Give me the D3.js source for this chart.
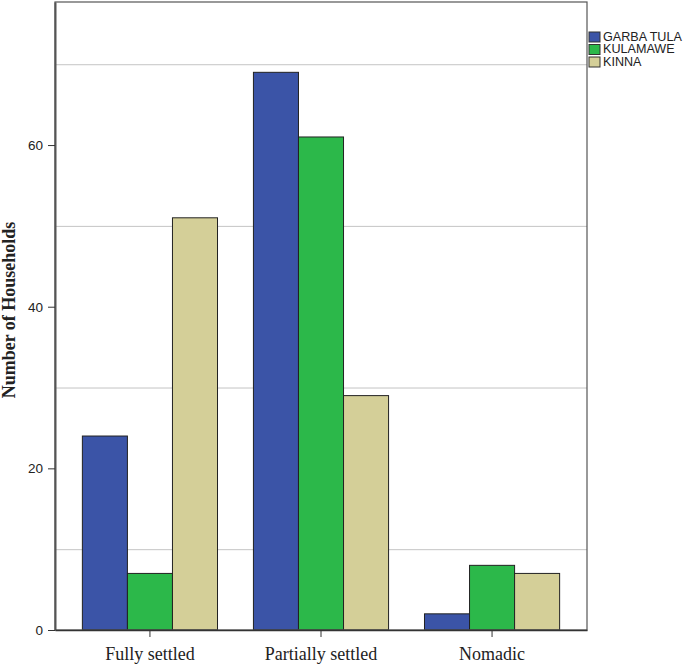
<!DOCTYPE html>
<html>
<head>
<meta charset="utf-8">
<script src="https://cdn.jsdelivr.net/npm/d3@7"></script>
<style>
  body { margin: 0; background: #fff; }
</style>
</head>
<body>
<div id="chart"></div>
<script>
const categories = ['Fully settled', 'Partially settled', 'Nomadic'];
const seriesNames = ['GARBA TULA', 'KULAMAWE', 'KINNA'];
const garbaTula = [24, 69, 2];
const kulamawe = [7, 61, 8];
const kinna = [51, 29, 7];
const yTicks = [0, 20, 40, 60];
const gridValues = [10, 30, 50, 70];

const seriesValues = [garbaTula, kulamawe, kinna];
const colors = ['#3b54a7', '#2cb84a', '#d4cf98'];

const width = 685, height = 666;
const margin = { top: 2, right: 98, bottom: 36, left: 55 };

const svg = d3.select('#chart').append('svg')
  .attr('width', width)
  .attr('height', height);

const x0 = d3.scaleBand()
  .domain(categories)
  .range([margin.left, width - margin.right])
  .paddingInner(0.21)
  .paddingOuter(0.16);

const x1 = d3.scaleBand()
  .domain(seriesNames)
  .range([0, x0.bandwidth()]);

const y = d3.scaleLinear()
  .domain([0, 77.7])
  .range([height - margin.bottom, margin.top]);

// gridlines
svg.append('g')
  .selectAll('line')
  .data(gridValues)
  .join('line')
  .attr('x1', margin.left)
  .attr('x2', width - margin.right)
  .attr('y1', (d) => y(d) + 0.5)
  .attr('y2', (d) => y(d) + 0.5)
  .attr('stroke', '#c4c4c4')
  .attr('stroke-width', 1);

// bars
const rows = categories.map((c, i) => ({
  cat: c,
  vals: seriesNames.map((s, j) => ({ s, v: seriesValues[j][i], k: j })),
}));

svg.append('g')
  .selectAll('g')
  .data(rows)
  .join('g')
  .attr('transform', (d) => `translate(${x0(d.cat)},0)`)
  .selectAll('rect')
  .data((d) => d.vals)
  .join('rect')
  .attr('x', (d) => x1(d.s))
  .attr('y', (d) => y(d.v))
  .attr('width', x1.bandwidth())
  .attr('height', (d) => y(0) - y(d.v))
  .attr('fill', (d) => colors[d.k])
  .attr('stroke', '#222')
  .attr('stroke-width', 1);

// frame
svg.append('rect')
  .attr('x', margin.left)
  .attr('y', margin.top)
  .attr('width', width - margin.right - margin.left)
  .attr('height', height - margin.bottom - margin.top)
  .attr('fill', 'none')
  .attr('stroke', '#555')
  .attr('stroke-width', 1.2);

// y axis
const yAxis = svg.append('g')
  .attr('transform', `translate(${margin.left},0)`)
  .call(d3.axisLeft(y).tickValues(yTicks).tickSize(7).tickSizeOuter(0).tickPadding(5));
yAxis.select('.domain').attr('stroke', '#555').attr('stroke-width', 2);
yAxis.selectAll('.tick line').attr('stroke', '#333');
yAxis.selectAll('text')
  .attr('font-family', 'Arial, "Liberation Sans", sans-serif')
  .attr('font-size', 13.5)
  .attr('fill', '#222');

// x axis
const xAxis = svg.append('g')
  .attr('transform', `translate(0,${height - margin.bottom})`)
  .call(d3.axisBottom(x0).tickSize(7).tickSizeOuter(0).tickPadding(10));
xAxis.select('.domain').attr('stroke', '#333').attr('stroke-width', 1.5);
xAxis.selectAll('.tick line').attr('stroke', '#333');
xAxis.selectAll('text')
  .attr('font-family', '"Times New Roman", "Liberation Serif", serif')
  .attr('font-size', 18)
  .attr('fill', '#222');

// y label
svg.append('text')
  .attr('transform', `translate(11,${310}) rotate(-90)`)
  .attr('text-anchor', 'middle')
  .attr('dominant-baseline', 'middle')
  .attr('font-family', '"Times New Roman", "Liberation Serif", serif')
  .attr('font-weight', 'bold')
  .attr('font-size', 18)
  .attr('fill', '#222')
  .text('Number of Households');

// legend
const legend = svg.append('g')
  .attr('transform', `translate(589,32)`)
  .selectAll('g')
  .data(seriesNames)
  .join('g')
  .attr('transform', (d, i) => `translate(0,${i * 12.5})`);

legend.append('rect')
  .attr('width', 11)
  .attr('height', 10)
  .attr('fill', (d, i) => colors[i])
  .attr('stroke', '#333')
  .attr('stroke-width', 1);

legend.append('text')
  .attr('x', 14)
  .attr('y', 5.5)
  .attr('dominant-baseline', 'middle')
  .attr('font-family', 'Arial, "Liberation Sans", sans-serif')
  .attr('font-size', 12.6)
  .attr('fill', '#222')
  .text((d) => d);
</script>
</body>
</html>
